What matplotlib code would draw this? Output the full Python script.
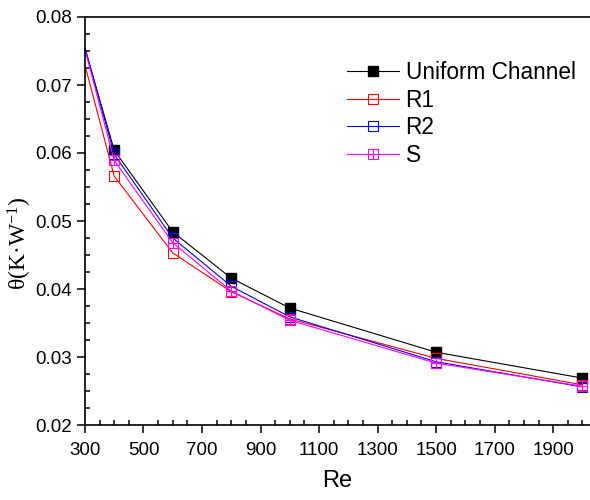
import matplotlib.pyplot as plt
from matplotlib.path import Path
from matplotlib.ticker import MultipleLocator

plt.rcParams['font.family'] = ['Liberation Sans', 'DejaVu Sans']
plt.rcParams['mathtext.fontset'] = 'custom'
plt.rcParams['mathtext.rm'] = 'Liberation Serif'
plt.rcParams['mathtext.it'] = 'Liberation Serif'

# Re values and thermal resistance for each channel
re = [300, 400, 600, 800, 1000, 1500, 2000]
uniform = [0.0754, 0.0604, 0.0484, 0.0416, 0.0372, 0.0307, 0.0269]
r1 = [0.0729, 0.0566, 0.0453, 0.0396, 0.0356, 0.0298, 0.0259]
r2 = [0.0755, 0.0598, 0.0475, 0.0404, 0.0359, 0.0293, 0.0256]
s = [0.0752, 0.0589, 0.0468, 0.0397, 0.0354, 0.0291, 0.0257]

# square with a cross inside for the S series
box_cross = Path(
    [(-1, -1), (1, -1), (1, 1), (-1, 1), (-1, -1), (0, -1), (0, 1), (-1, 0), (1, 0)],
    [Path.MOVETO, Path.LINETO, Path.LINETO, Path.LINETO, Path.CLOSEPOLY,
     Path.MOVETO, Path.LINETO, Path.MOVETO, Path.LINETO],
)

fig = plt.figure(figsize=(5.9, 5.0), dpi=100)
ax = fig.add_axes([0.144, 0.15, 0.856, 0.816])

marks = list(range(1, len(re)))  # no marker on the first point
ax.plot(re, uniform, color='black', lw=0.8, marker='s', ms=6.5, markevery=marks,
        mfc='black', mec='black', label='Uniform Channel', clip_on=False)
ax.plot(re, r1, color='red', lw=0.8, marker='s', ms=7, markevery=marks,
        mfc='none', mec='red', mew=0.8, label='R1', clip_on=False)
ax.plot(re, r2, color='blue', lw=0.8, marker='s', ms=7, markevery=marks,
        mfc='none', mec='blue', mew=0.8, label='R2', clip_on=False)
ax.plot(re, s, color='magenta', lw=0.8, marker=box_cross, ms=7, markevery=marks,
        mfc='none', mec='magenta', mew=0.8, label='S', clip_on=False)

ax.set_xlim(300, 2026)
ax.set_ylim(0.02, 0.08)
ax.set_xticks(range(300, 2000, 200))
ax.xaxis.set_minor_locator(MultipleLocator(50))
ax.yaxis.set_major_locator(MultipleLocator(0.01))
ax.yaxis.set_minor_locator(MultipleLocator(0.0025))
ax.yaxis.set_major_formatter(plt.FuncFormatter(lambda v, p: f'{v:.2f}'))

ax.tick_params(which='major', direction='out', length=6, width=1.1, labelsize=13.5)
ax.tick_params(axis='x', which='major', pad=6)
ax.tick_params(which='minor', direction='in', length=3.6, width=1.1)
ax.spines['right'].set_visible(False)
for side in ['left', 'bottom', 'top']:
    ax.spines[side].set_linewidth(1.2)

ax.set_xlabel('Re', fontsize=17, labelpad=8)
ax.set_ylabel('θ(K·W$^{-1}$)', fontsize=17, family='Liberation Serif')
ax.yaxis.set_label_coords(-0.1, 0.446)

ax.legend(loc='upper left', bbox_to_anchor=(0.478, 0.942), frameon=False,
          fontsize=16.3, handlelength=2.3, labelspacing=0.2, handletextpad=0.3)

fig.savefig('out.png', dpi=100)
